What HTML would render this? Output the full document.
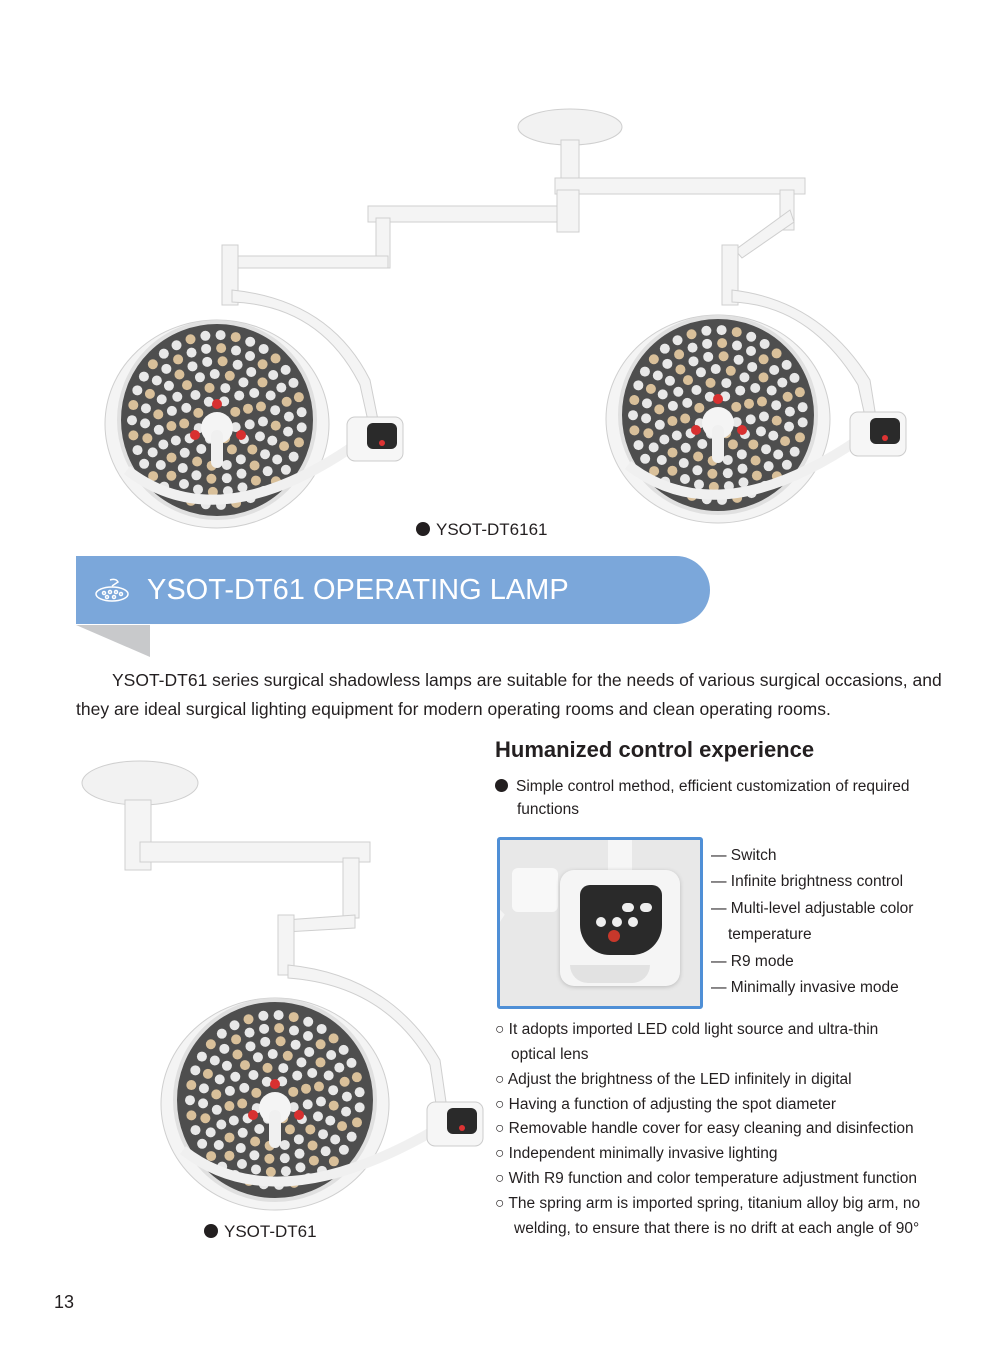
<!DOCTYPE html>
<html><head><meta charset="utf-8">
<style>
body{margin:0;background:#fff;}
#p{position:relative;width:1000px;height:1367px;overflow:hidden;font-family:"Liberation Sans",sans-serif;color:#231f20;}
.t{position:absolute;white-space:nowrap;}
.b{font-family:"Liberation Sans",sans-serif;font-size:15.5px;color:#231f20;}
svg{position:absolute;left:0;top:0;}
</style></head><body><div id="p">
<svg width="1000" height="1367" id="s">
<g stroke="#cfcfcf" stroke-width="1" fill="#f4f4f4">
<ellipse cx="570" cy="127" rx="52" ry="18" fill="#f2f2f2"/>
<rect x="561" y="140" width="18" height="40"/>
<rect x="555" y="178" width="250" height="16"/>
<rect x="368" y="206" width="200" height="16"/>
<rect x="557" y="190" width="22" height="42"/>
<rect x="376" y="218" width="14" height="50"/>
<path d="M230 256 L388 256 L388 268 L230 268Z"/>
<rect x="222" y="245" width="16" height="60"/>
<path d="M232 290 Q330 300 370 380 L380 430 L370 430 L360 385 Q320 305 232 302Z"/>
<rect x="780" y="190" width="14" height="40"/>
<path d="M790 210 L735 250 L742 258 L794 222Z"/>
<rect x="722" y="245" width="16" height="60"/>
<path d="M732 290 Q820 300 870 380 L878 430 L868 430 L858 385 Q810 305 732 302Z"/>
<ellipse cx="140" cy="783" rx="58" ry="22" fill="#f2f2f2"/>
<rect x="125" y="800" width="26" height="70"/>
<rect x="140" y="842" width="230" height="20"/>
<rect x="343" y="858" width="16" height="60"/>
<path d="M355 915 L285 920 L285 932 L355 928Z"/>
<rect x="278" y="915" width="16" height="60"/>
<path d="M288 965 Q390 975 440 1060 L450 1130 L440 1130 L430 1065 Q385 985 288 978Z"/>
</g>
<g id="lamps"></g>
</svg>

<div class="t" style="left:416px;top:520px;font-size:17px;"><span style="display:inline-block;width:14px;height:14px;border-radius:50%;background:#231f20;vertical-align:-1px;margin-right:6px"></span>YSOT-DT6161</div>

<div style="position:absolute;left:76px;top:625px;width:74px;height:32px;background:#c8c9cb;clip-path:polygon(0 0,100% 0,100% 100%);"></div>
<div style="position:absolute;left:76px;top:556px;width:634px;height:68px;background:#7ba7da;border-radius:0 34px 34px 0;"></div>
<svg width="40" height="30" style="left:92px;top:576px" viewBox="0 0 40 30"><g fill="none" stroke="#fff" stroke-width="1.5"><path d="M18 4 Q24 2 26 6 L20 10"/><ellipse cx="20" cy="18" rx="16" ry="7"/><circle cx="12" cy="17" r="1.5"/><circle cx="18" cy="16" r="1.5"/><circle cx="24" cy="16" r="1.5"/><circle cx="29" cy="18" r="1.5"/><circle cx="15" cy="21" r="1.5"/><circle cx="22" cy="21" r="1.5"/></g></svg>
<div class="t" style="left:147px;top:574px;font-size:29px;color:#fff;">YSOT-DT61 OPERATING LAMP</div>

<div class="t b" style="left:112px;top:670px;font-size:17.5px;">YSOT-DT61 series surgical shadowless lamps are suitable for the needs of various surgical occasions, and</div>
<div class="t b" style="left:76px;top:699px;font-size:17.5px;">they are ideal surgical lighting equipment for modern operating rooms and clean operating rooms.</div>

<div class="t" style="left:495px;top:737px;font-size:22px;font-weight:bold;">Humanized control experience</div>
<div class="t b" style="left:495px;top:778px;"><span style="display:inline-block;width:13px;height:13px;border-radius:50%;background:#231f20;margin-right:8px;vertical-align:-1px"></span>Simple control method, efficient customization of required</div>
<div class="t b" style="left:517px;top:801px;">functions</div>

<div style="position:absolute;left:497px;top:837px;width:200px;height:166px;border:3px solid #4f8fd6;border-radius:3px;background:#e8e8e8;overflow:hidden">
 <div style="position:absolute;left:108px;top:0;width:24px;height:40px;background:#f6f6f6"></div>
 <div style="position:absolute;left:-30px;top:40px;width:90px;height:150px;border:18px solid #f4f4f4;border-radius:50%;border-right-color:transparent;border-top-color:transparent"></div>
 <div style="position:absolute;left:12px;top:28px;width:46px;height:44px;background:#f8f8f8;border-radius:6px"></div>
 <div style="position:absolute;left:60px;top:30px;width:120px;height:116px;background:#f5f5f5;border-radius:14px;box-shadow:0 1px 4px #bbb"></div>
 <div style="position:absolute;left:80px;top:45px;width:82px;height:70px;background:#2a2a2a;border-radius:10px 10px 30px 30px"></div>
 <div style="position:absolute;left:108px;top:90px;width:12px;height:12px;border-radius:50%;background:#c8382b"></div>
 <div style="position:absolute;left:122px;top:63px;width:12px;height:9px;border-radius:5px;background:#eee"></div>
 <div style="position:absolute;left:140px;top:63px;width:12px;height:9px;border-radius:5px;background:#eee"></div>
 <div style="position:absolute;left:96px;top:77px;width:10px;height:10px;border-radius:50%;background:#eee"></div>
 <div style="position:absolute;left:112px;top:77px;width:10px;height:10px;border-radius:50%;background:#eee"></div>
 <div style="position:absolute;left:128px;top:77px;width:10px;height:10px;border-radius:50%;background:#eee"></div>
 <div style="position:absolute;left:70px;top:125px;width:80px;height:18px;background:#e2e2e2;border-radius:0 0 30px 30px"></div>
</div>

<div class="t b" style="left:711px;top:847px;">— Switch</div>
<div class="t b" style="left:711px;top:873px;">— Infinite brightness control</div>
<div class="t b" style="left:711px;top:900px;">— Multi-level adjustable color</div>
<div class="t b" style="left:728px;top:926px;">temperature</div>
<div class="t b" style="left:711px;top:953px;">— R9 mode</div>
<div class="t b" style="left:711px;top:979px;">— Minimally invasive mode</div>

<div class="t b" style="left:495px;top:1021px;">○ It adopts imported LED cold light source and ultra-thin</div>
<div class="t b" style="left:511px;top:1046px;">optical lens</div>
<div class="t b" style="left:495px;top:1071px;">○ Adjust the brightness of the LED infinitely in digital</div>
<div class="t b" style="left:495px;top:1096px;">○ Having a function of adjusting the spot diameter</div>
<div class="t b" style="left:495px;top:1120px;">○ Removable handle cover for easy cleaning and disinfection</div>
<div class="t b" style="left:495px;top:1145px;">○ Independent minimally invasive lighting</div>
<div class="t b" style="left:495px;top:1170px;">○ With R9 function and color temperature adjustment function</div>
<div class="t b" style="left:495px;top:1195px;">○ The spring arm is imported spring, titanium alloy big arm, no</div>
<div class="t b" style="left:514px;top:1220px;">welding, to ensure that there is no drift at each angle of 90°</div>

<div class="t" style="left:204px;top:1222px;font-size:17px;"><span style="display:inline-block;width:14px;height:14px;border-radius:50%;background:#231f20;vertical-align:-1px;margin-right:6px"></span>YSOT-DT61</div>
<div class="t" style="left:54px;top:1292px;font-size:18px;">13</div>
</div>
<script>
var g=document.getElementById('lamps'),ns='http://www.w3.org/2000/svg';
function el(t,a){var e=document.createElementNS(ns,t);for(var k in a)e.setAttribute(k,a[k]);g.appendChild(e);return e;}
function lamp(cx,cy,R,px,py){
 el('ellipse',{cx:cx,cy:cy+4,rx:R+2,ry:R-6,fill:'#f4f4f4',stroke:'#cfcfcf'});
 el('circle',{cx:cx,cy:cy,r:R-12,fill:'#4e4e4e',stroke:'#e0e0e0','stroke-width':4});
 for(var r=20;r<R-18;r+=13){var c=Math.floor(2*Math.PI*r/15);for(var i=0;i<c;i++){var a=i/c*2*Math.PI+r;
  var col=(i%3==0)?'#d9c09a':'#e8e8e8';
  el('circle',{cx:cx+r*Math.cos(a),cy:cy+r*Math.sin(a),r:5,fill:col});}}
 el('circle',{cx:cx-22,cy:cy+15,r:5,fill:'#d83030'});el('circle',{cx:cx+24,cy:cy+15,r:5,fill:'#d83030'});el('circle',{cx:cx,cy:cy-16,r:5,fill:'#d83030'});
 el('circle',{cx:cx,cy:cy+8,r:16,fill:'#f4f4f4'});
 el('rect',{x:cx-6,y:cy+10,width:12,height:38,rx:6,fill:'#f0f0f0'});
 el('path',{d:'M'+(cx-R+20)+' '+(cy+50)+' Q'+cx+' '+(cy+R+10)+' '+(px)+' '+(py),fill:'none',stroke:'#f0f0f0','stroke-width':10});
 el('rect',{x:px-8,y:py-28,width:56,height:44,rx:8,fill:'#f6f6f6',stroke:'#ccc'});
 el('rect',{x:px+12,y:py-22,width:30,height:26,rx:6,fill:'#2a2a2a'});
 el('circle',{cx:px+27,cy:py-2,r:3,fill:'#d33'});
}
lamp(217,420,110,355,445);lamp(718,415,110,858,440);lamp(275,1100,112,435,1130);
</script>
</body></html>
